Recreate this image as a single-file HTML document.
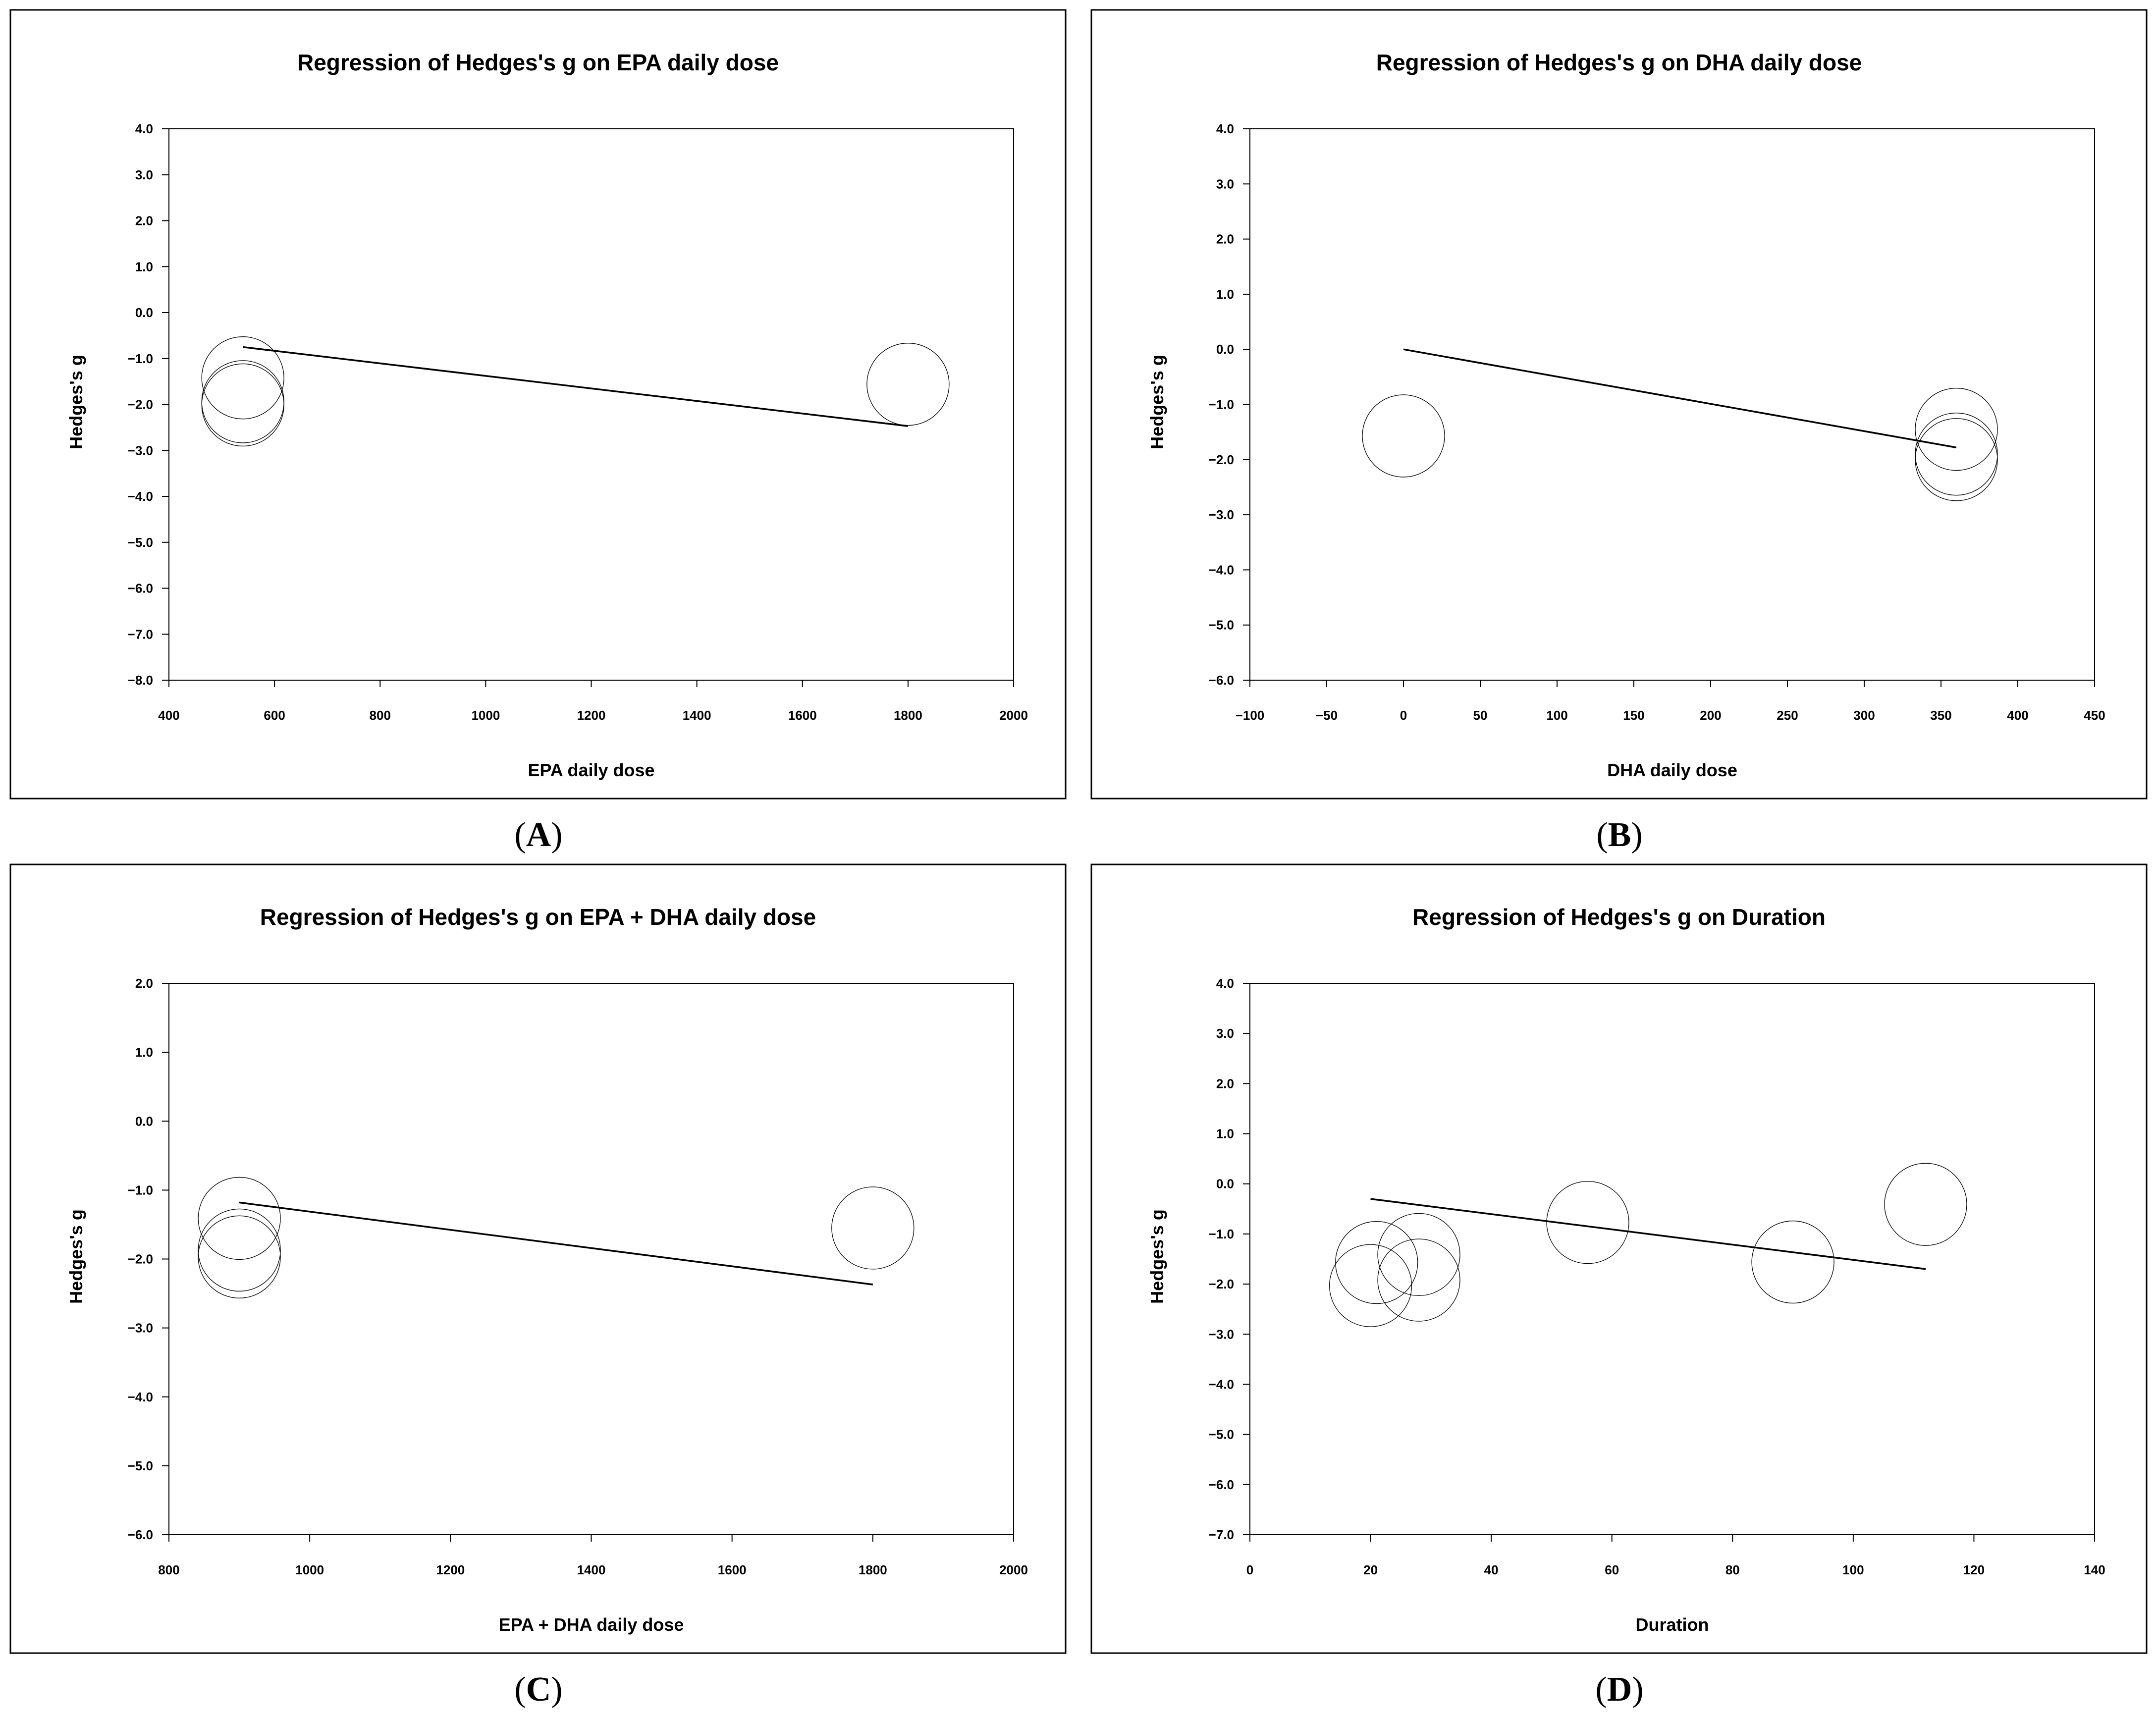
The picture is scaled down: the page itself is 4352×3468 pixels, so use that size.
<!DOCTYPE html>
<html><head><meta charset="utf-8"><style>
html,body{margin:0;padding:0;background:#fff;}
svg{display:block;}
text{font-family:"Liberation Sans Narrow","Liberation Sans",sans-serif;font-weight:bold;fill:#000;}
.lbl{font-family:"Liberation Serif",serif;font-weight:normal;}
</style></head><body>
<svg id="fig" width="4352" height="3468" viewBox="0 0 4352 3468" xmlns="http://www.w3.org/2000/svg"></svg>
<script>
// Panel A data
const aXTicks = [400,600,800,1000,1200,1400,1600,1800,2000];
const aYTicks = [4,3,2,1,0,-1,-2,-3,-4,-5,-6,-7,-8];
const aPtsX = [540,540,540,1800];
const aPtsY = [-1.42,-1.94,-2.01,-1.56];
const aLineX = [540,1800];
const aLineY = [-0.75,-2.47];
// Panel B data
const bXTicks = [-100,-50,0,50,100,150,200,250,300,350,400,450];
const bYTicks = [4,3,2,1,0,-1,-2,-3,-4,-5,-6];
const bPtsX = [0,360,360,360];
const bPtsY = [-1.57,-1.45,-1.9,-2.0];
const bLineX = [0,360];
const bLineY = [0,-1.78];
// Panel C data
const cXTicks = [800,1000,1200,1400,1600,1800,2000];
const cYTicks = [2,1,0,-1,-2,-3,-4,-5,-6];
const cPtsX = [900,900,900,1800];
const cPtsY = [-1.41,-1.87,-1.97,-1.55];
const cLineX = [900,1800];
const cLineY = [-1.18,-2.37];
// Panel D data
const dXTicks = [0,20,40,60,80,100,120,140];
const dYTicks = [4,3,2,1,0,-1,-2,-3,-4,-5,-6,-7];
const dPtsX = [21,20,28,28,56,90,112];
const dPtsY = [-1.57,-2.03,-1.41,-1.92,-0.77,-1.56,-0.41];
const dLineX = [20,112];
const dLineY = [-0.3,-1.7];

const NS = "http://www.w3.org/2000/svg";
const svg = document.getElementById('fig');
function mk(tag, attrs, parent){
  const e = document.createElementNS(NS, tag);
  for (const k in attrs) e.setAttribute(k, attrs[k]);
  parent.appendChild(e);
  return e;
}
function fmtY(v){ const s = Math.abs(v).toFixed(1); return v < 0 ? '\u2212' + s : s; }
function fmtX(v){ return v < 0 ? '\u2212' + Math.abs(v) : String(v); }

function panel(id, fx, fy, title, xTitle, letter, xT, yT, px, py, lx, ly){
  const g = mk('g', {}, svg);
  
  
  const fr = mk('rect', {x:fx, y:fy, width:2130, height:1592, fill:'none', stroke:'#000', 'stroke-width':3}, g);
  
  
  const L = fx + 320, T = fy + 240, W = 1705, H = 1113;
  const xmin = xT[0], xmax = xT[xT.length-1], ymax = yT[0], ymin = yT[yT.length-1];
  const sx = v => L + (v - xmin) / (xmax - xmin) * W;
  const sy = v => T + (ymax - v) / (ymax - ymin) * H;
  const t = mk('text', {x:fx + 1065, y:fy + 122, 'font-size':46, 'text-anchor':'middle', 'font-family':'Liberation Sans, sans-serif'}, g);
  t.textContent = title;
  
  
  const pa = mk('rect', {x:L, y:T, width:W, height:H, fill:'none', stroke:'#000', 'stroke-width':2}, g);
  
  
  yT.forEach(v => {
    const y = sy(v);
    mk('line', {x1:L-14, x2:L, y1:y, y2:y, stroke:'#000', 'stroke-width':2}, g);
    const tx = mk('text', {x:L-32, y:y+9, 'font-size':26, 'text-anchor':'end'}, g);
    tx.textContent = fmtY(v);
    
    
  });
  xT.forEach(v => {
    const x = sx(v);
    mk('line', {x1:x, x2:x, y1:T+H, y2:T+H+14, stroke:'#000', 'stroke-width':2}, g);
    const tx = mk('text', {x:x, y:T+H+80, 'font-size':26, 'text-anchor':'middle'}, g);
    tx.textContent = fmtX(v);
    
    
  });
  const xt = mk('text', {x:L + W/2, y:fy + 1547, 'font-size':36, 'text-anchor':'middle', 'font-family':'Liberation Sans, sans-serif'}, g);
  xt.textContent = xTitle;
  
  
  const yy = T + H/2 - 5;
  const ytl = mk('text', {x:0, y:0, 'font-size':36, 'text-anchor':'middle', 'font-family':'Liberation Sans, sans-serif', transform:'translate(' + (fx + 145) + ',' + yy + ') rotate(-90)'}, g);
  ytl.textContent = "Hedges's g";
  
  
  px.forEach((v, i) => {
    const c = mk('circle', {cx:sx(v), cy:sy(py[i]), r:83, fill:'none', stroke:'#000', 'stroke-width':1.3}, g);
    
    
  });
  const rl = mk('line', {x1:sx(lx[0]), y1:sy(ly[0]), x2:sx(lx[1]), y2:sy(ly[1]), stroke:'#000', 'stroke-width':3.5}, g);
  
  
  const lb = mk('text', {x:fx + 1066, y:fy + 1688, 'font-size':70, 'text-anchor':'middle', 'class':'lbl'}, g);
  
  
  lb.appendChild(document.createTextNode('('));
  const ts = mk('tspan', {'font-weight':'bold'}, lb);
  ts.textContent = letter;
  lb.appendChild(document.createTextNode(')'));
}
panel('a', 21, 20, "Regression of Hedges's g on EPA daily dose", 'EPA daily dose', 'A', aXTicks, aYTicks, aPtsX, aPtsY, aLineX, aLineY);
panel('b', 2203, 20, "Regression of Hedges's g on DHA daily dose", 'DHA daily dose', 'B', bXTicks, bYTicks, bPtsX, bPtsY, bLineX, bLineY);
panel('c', 21, 1745, "Regression of Hedges's g on EPA + DHA daily dose", 'EPA + DHA daily dose', 'C', cXTicks, cYTicks, cPtsX, cPtsY, cLineX, cLineY);
panel('d', 2203, 1745, "Regression of Hedges's g on Duration", 'Duration', 'D', dXTicks, dYTicks, dPtsX, dPtsY, dLineX, dLineY);
</script>
</body></html>
